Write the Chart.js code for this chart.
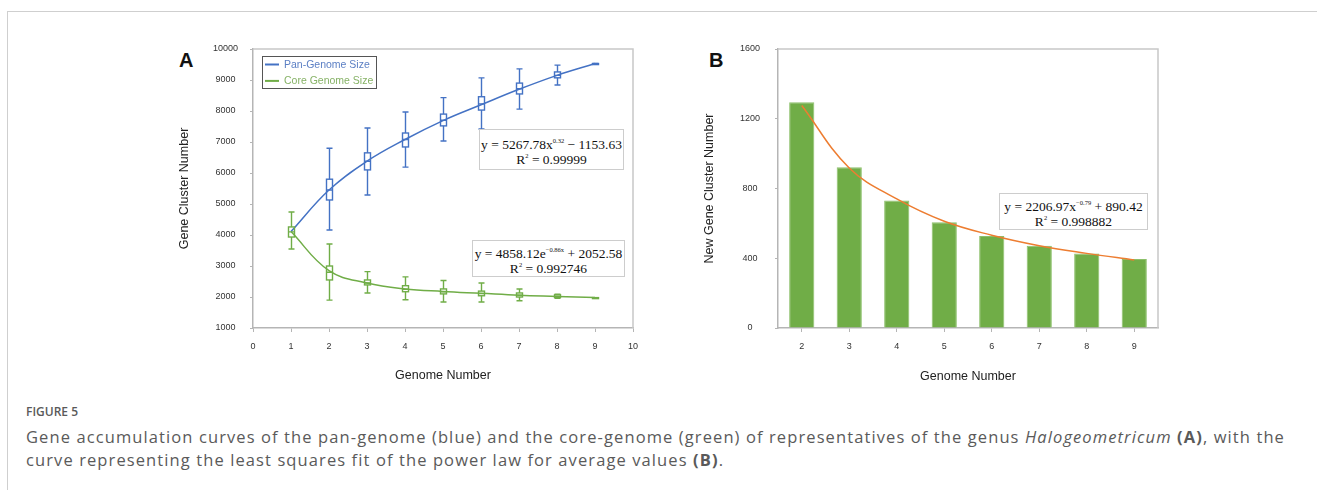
<!DOCTYPE html>
<html>
<head>
<meta charset="utf-8">
<script src="https://cdn.jsdelivr.net/npm/chart.js@4.4.1/dist/chart.umd.min.js"></script>
<style>
body { margin: 0; background: #fff; width: 1317px; height: 490px; overflow: hidden; position: relative; font-family: "Liberation Sans", Arial, sans-serif; }
.frame { position: absolute; left: 7px; top: 11px; right: 0; bottom: 0; border-top: 1px solid #cfcfcf; border-left: 1px solid #cfcfcf; }
.panel { position: absolute; font-weight: bold; font-size: 20px; color: #111; line-height: 20px; }
canvas { position: absolute; }
.eq { position: absolute; box-sizing: border-box; border: 1px solid #cdcdcd; background: #fff; font-family: "Liberation Serif", "Times New Roman", serif; font-size: 13.5px; text-align: center; line-height: 15px; color: #111; }
.eq sup { font-size: 6.5px; vertical-align: 6px; line-height: 0; }
.cap { position: absolute; left: 26px; font-family: "Open Sans", sans-serif; color: #5a5a5a; white-space: nowrap; }
</style>
</head>
<body>
<div class="frame"></div>
<div class="panel" style="left:179px;top:50px;">A</div>
<div class="panel" style="left:709px;top:50px;">B</div>
<canvas id="panChart" width="510" height="380" style="left:150px;top:20px;"></canvas>
<canvas id="newGeneChart" width="510" height="380" style="left:680px;top:20px;"></canvas>

<div class="eq" style="left:479px;top:129px;width:145px;height:41px;padding-top:7px;">y = 5267.78x<sup>0.32</sup> &minus; 1153.63<br>R<sup>2</sup> = 0.99999</div>
<div class="eq" style="left:472px;top:240px;width:153px;height:37px;padding-top:5px;">y = 4858.12e<sup>&minus;0.86x</sup> + 2052.58<br>R<sup>2</sup> = 0.992746</div>
<div class="eq" style="left:999px;top:193px;width:149px;height:37px;padding-top:5px;">y = 2206.97x<sup>&minus;0.79</sup> + 890.42<br>R<sup>2</sup> = 0.998882</div>

<div class="cap" style="top:405px;font-size:12px;line-height:14px;font-weight:600;">FIGURE 5</div>
<div class="cap" style="top:425px;font-size:16.5px;line-height:23px;letter-spacing:1.1px;">Gene accumulation curves of the pan-genome (blue) and the core-genome (green) of representatives of the genus <i>Halogeometricum</i> <b>(A)</b>, with the<br>curve representing the least squares fit of the power law for average values <b>(B)</b>.</div>

<script>
// panel A: number of genomes sampled
const genomeCounts = [1, 2, 3, 4, 5, 6, 7, 8, 9];

// pan-genome: fitted curve and box stats (null = no box)
const panCurve = [4110, 5450, 6380, 7080, 7690, 8200, 8700, 9150, 9530];
const panMin = [null, 4160, 5290, 6190, 7030, 7420, 8060, 8840, 9530];
const panQ1 = [null, 5130, 6100, 6840, 7520, 8030, 8550, 9070, 9530];
const panMed = [null, 5450, 6380, 7080, 7700, 8230, 8720, 9150, 9530];
const panQ3 = [null, 5800, 6650, 7290, 7900, 8460, 8900, 9260, 9530];
const panMax = [null, 6800, 7450, 7970, 8430, 9070, 9360, 9480, 9530];

// core genome
const coreCurve = [4110, 2850, 2450, 2260, 2180, 2120, 2060, 2020, 1980];
const coreMin = [3550, 1900, 2130, 1910, 1840, 1840, 1880, 1960, 1980];
const coreQ1 = [3935, 2550, 2390, 2170, 2100, 2040, 2000, 1985, 1980];
const coreMed = [4100, 2800, 2450, 2250, 2170, 2110, 2060, 2020, 1980];
const coreQ3 = [4260, 3000, 2550, 2365, 2260, 2190, 2130, 2070, 1980];
const coreMax = [4740, 3710, 2820, 2650, 2530, 2450, 2260, 2090, 1980];

// panel B: new gene clusters
const newGeneLabels = ['2', '3', '4', '5', '6', '7', '8', '9'];
const newGeneCounts = [1295, 922, 731, 606, 528, 471, 427, 396];
const newGeneFit = [1276, 918, 740, 612, 532, 472, 428, 390];

const BLUE = '#4472C4';
const GREEN = '#70AD47';
const ORANGE = '#ED7D31';
const AXIS = '#b5b5b5';
const tickFont = { family: '"Liberation Sans", Arial, sans-serif', size: 9 };
const titleFont = { family: '"Liberation Sans", Arial, sans-serif', size: 12.5 };
const plainNum = v => String(v);

const toXY = arr => genomeCounts.map((g, i) => ({ x: g, y: arr[i] }));

// top + right edge of the plot area
const frameLines = {
    id: 'frameLines',
    beforeDatasetsDraw(chart) {
        const { ctx, chartArea: a } = chart;
        ctx.save();
        ctx.strokeStyle = '#c8c8c8';
        ctx.lineWidth = 1.5;
        ctx.beginPath();
        ctx.moveTo(a.left, a.top);
        ctx.lineTo(a.right, a.top);
        ctx.lineTo(a.right, a.bottom);
        ctx.stroke();
        ctx.restore();
    }
};

// whiskers and boxes for panel A
const boxWhiskers = {
    id: 'boxWhiskers',
    afterDatasetsDraw(chart) {
        const { ctx, scales: { x, y } } = chart;
        const groups = [
            [BLUE, panMin, panQ1, panMed, panQ3, panMax],
            [GREEN, coreMin, coreQ1, coreMed, coreQ3, coreMax]
        ];
        ctx.save();
        ctx.lineWidth = 1.4;
        for (const [color, mn, q1, md, q3, mx] of groups) {
            ctx.strokeStyle = color;
            genomeCounts.forEach((g, i) => {
                if (mn[i] == null) return;
                const px = Math.round(x.getPixelForValue(g)) + 0.5;
                const yMin = y.getPixelForValue(mn[i]);
                const yQ1 = y.getPixelForValue(q1[i]);
                const yMd = y.getPixelForValue(md[i]);
                const yQ3 = y.getPixelForValue(q3[i]);
                const yMax = y.getPixelForValue(mx[i]);
                ctx.beginPath();
                ctx.moveTo(px, yMax); ctx.lineTo(px, yQ3);
                ctx.moveTo(px, yQ1); ctx.lineTo(px, yMin);
                ctx.moveTo(px - 3, yMax); ctx.lineTo(px + 3, yMax);
                ctx.moveTo(px - 3, yMin); ctx.lineTo(px + 3, yMin);
                ctx.moveTo(px - 3, yMd); ctx.lineTo(px + 3, yMd);
                ctx.stroke();
                ctx.strokeRect(px - 3, yQ3, 6, Math.max(yQ1 - yQ3, 1));
            });
        }
        ctx.restore();
    }
};

// legend box inside plot area of panel A
const insideLegend = {
    id: 'insideLegend',
    afterDraw(chart) {
        const { ctx, chartArea: a } = chart;
        const bx = a.left + 9, by = a.top + 7;
        ctx.save();
        ctx.fillStyle = '#fff';
        ctx.fillRect(bx, by, 114, 32);
        ctx.strokeStyle = '#555';
        ctx.lineWidth = 1;
        ctx.strokeRect(bx + 0.5, by + 0.5, 114, 32);
        ctx.font = '10.5px "Liberation Sans", Arial, sans-serif';
        ctx.textBaseline = 'middle';
        chart.data.datasets.forEach((ds, i) => {
            const ly = by + 8.5 + i * 16.4;
            ctx.strokeStyle = ds.borderColor;
            ctx.lineWidth = 2;
            ctx.beginPath();
            ctx.moveTo(bx + 3, ly); ctx.lineTo(bx + 17, ly);
            ctx.stroke();
            ctx.fillStyle = ds.legendText;
            ctx.fillText(ds.label, bx + 22, ly + 0.5);
        });
        ctx.restore();
    }
};

new Chart(document.getElementById('panChart'), {
    type: 'line',
    data: {
        datasets: [{
            label: 'Pan-Genome Size',
            data: toXY(panCurve),
            borderColor: BLUE,
            legendText: '#5b7fc4',
            borderWidth: 1.5,
            pointRadius: 0,
            tension: 0.4
        }, {
            label: 'Core Genome Size',
            data: toXY(coreCurve),
            borderColor: GREEN,
            legendText: '#86b266',
            borderWidth: 1.5,
            pointRadius: 0,
            tension: 0.4
        }]
    },
    options: {
        responsive: false,
        animation: false,
        layout: { padding: { left: 17.5, right: 27, top: 29, bottom: 0 } },
        plugins: { legend: { display: false }, tooltip: { enabled: false } },
        scales: {
            x: {
                type: 'linear',
                min: 0, max: 10,
                ticks: { stepSize: 1, color: '#333', font: tickFont, padding: 9.5, callback: plainNum },
                grid: { drawOnChartArea: false, tickLength: 4, color: AXIS },
                border: { color: AXIS, width: 1.5 },
                title: { display: true, text: 'Genome Number', color: '#222', font: titleFont, padding: { top: 0, bottom: 16.5 } },
                afterFit: s => { s.height = 72; }
            },
            y: {
                min: 1000, max: 10000,
                ticks: { stepSize: 1000, color: '#333', font: tickFont, padding: 12, crossAlign: 'center', callback: plainNum },
                grid: { drawOnChartArea: false, tickLength: 3, color: AXIS },
                border: { color: AXIS, width: 1.5 },
                title: { display: true, text: 'Gene Cluster Number', color: '#222', font: titleFont, padding: { top: 10, bottom: 0 } },
                afterFit: s => { s.width = 85.5; }
            }
        }
    },
    plugins: [frameLines, boxWhiskers, insideLegend]
});

new Chart(document.getElementById('newGeneChart'), {
    data: {
        labels: newGeneLabels,
        datasets: [{
            type: 'line',
            data: newGeneFit,
            borderColor: ORANGE,
            borderWidth: 1.5,
            pointRadius: 0,
            tension: 0.4,
            order: 0
        }, {
            type: 'bar',
            data: newGeneCounts,
            backgroundColor: GREEN,
            borderColor: '#8cc06a',
            borderWidth: 1,
            barPercentage: 0.53,
            categoryPercentage: 1,
            order: 1
        }]
    },
    options: {
        responsive: false,
        animation: false,
        layout: { padding: { left: 12.2, right: 32, top: 29, bottom: 0 } },
        plugins: { legend: { display: false }, tooltip: { enabled: false } },
        scales: {
            x: {
                ticks: { color: '#333', font: tickFont, padding: 9.5 },
                grid: { drawOnChartArea: false, offset: false, tickLength: 4, color: AXIS },
                border: { color: AXIS, width: 1.5 },
                title: { display: true, text: 'Genome Number', color: '#222', font: titleFont, padding: { top: 0, bottom: 15.5 } },
                afterFit: s => { s.height = 72; }
            },
            y: {
                min: 0, max: 1600,
                ticks: { stepSize: 400, color: '#333', font: tickFont, padding: 15, crossAlign: 'center', callback: plainNum },
                grid: { drawOnChartArea: false, tickLength: 3, color: AXIS },
                border: { color: AXIS, width: 1.5 },
                title: { display: true, text: 'New Gene Cluster Number', color: '#222', font: titleFont, padding: { top: 10, bottom: 0 } },
                afterFit: s => { s.width = 85.8; }
            }
        }
    },
    plugins: [frameLines]
});
</script>
</body>
</html>
